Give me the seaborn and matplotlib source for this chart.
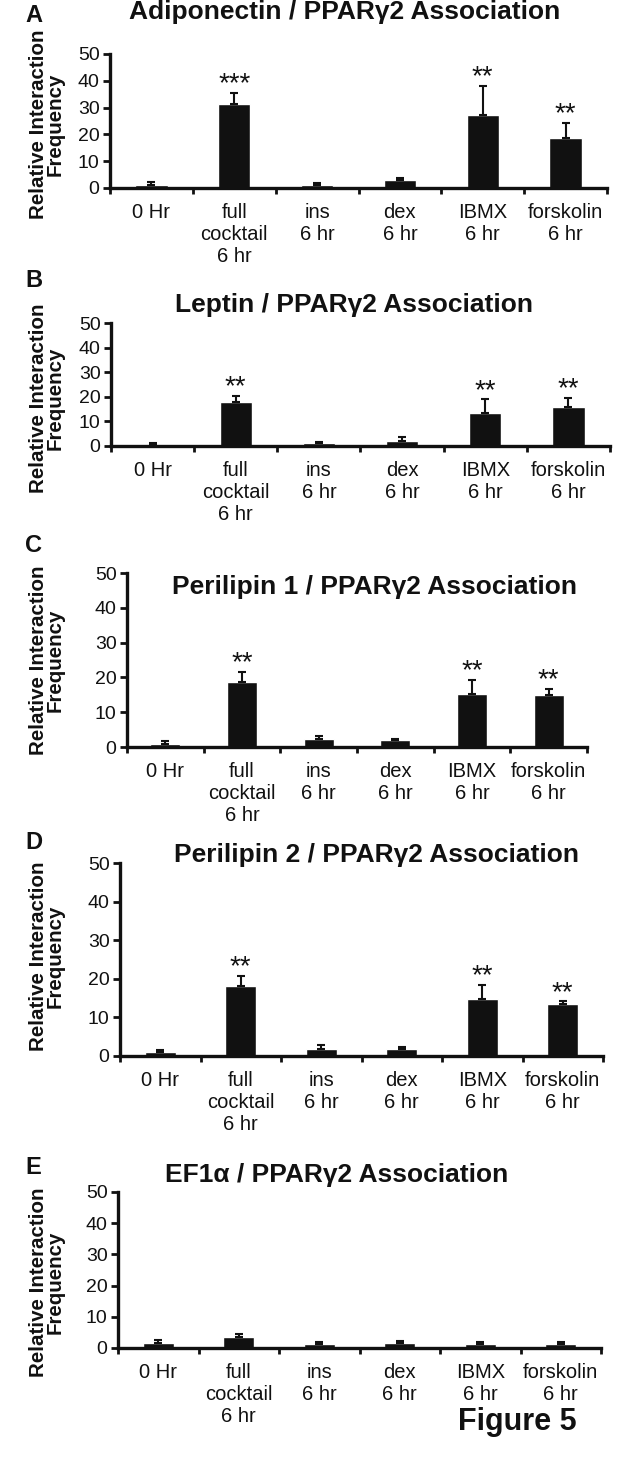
import matplotlib
matplotlib.use("Agg")
import matplotlib.pyplot as plt
import seaborn as sns
import pandas as pd
import numpy as np

sns.set_theme(style="ticks")
plt.rcParams['font.family'] = ['Liberation Sans', 'DejaVu Sans']

# categories shared by all five panels
conditions = ["0 Hr", "full\ncocktail\n6 hr", "ins\n6 hr", "dex\n6 hr", "IBMX\n6 hr", "forskolin\n6 hr"]
yticks = [0, 10, 20, 30, 40, 50]

# A - Adiponectin
adipo_mean = [1.1, 31.4, 1.0, 2.8, 27.4, 18.6]
adipo_err = [1.0, 4.2, 1.0, 0.8, 10.7, 5.8]
adipo_stars = ["", "***", "", "", "**", "**"]

# B - Leptin
leptin_mean = [0.5, 17.9, 1.1, 1.9, 13.6, 15.7]
leptin_err = [0.9, 2.6, 0.7, 1.9, 5.4, 3.9]
leptin_stars = ["", "**", "", "", "**", "**"]

# C - Perilipin 1
plin1_mean = [1.0, 18.7, 2.3, 1.9, 15.3, 15.0]
plin1_err = [0.6, 2.9, 0.8, 0.5, 4.0, 1.8]
plin1_stars = ["", "**", "", "", "**", "**"]

# D - Perilipin 2
plin2_mean = [0.95, 18.25, 1.8, 1.8, 14.8, 13.5]
plin2_err = [0.6, 2.55, 1.05, 0.45, 3.7, 0.7]
plin2_stars = ["", "**", "", "", "**", "**"]

# E - EF1a control
ef1a_mean = [1.7, 3.5, 1.4, 1.7, 1.4, 1.3]
ef1a_err = [0.8, 1.0, 0.6, 0.65, 0.6, 0.5]
ef1a_stars = ["", "", "", "", "", ""]

W, H = 628, 1462
fig = plt.figure(figsize=(W / 100, H / 100), dpi=100)
fig.patch.set_facecolor("white")
INK = "#111111"


def fx(x):
    return x / W


def fy(y):
    return 1 - y / H


def draw_panel(rect, means, errs, stars):
    left, top, right, bottom = rect
    ax = fig.add_axes([fx(left), fy(bottom), (right - left) / W, (bottom - top) / H])
    df = pd.DataFrame({"condition": conditions, "value": means})
    sns.barplot(data=df, x="condition", y="value", order=conditions, color=INK,
                saturation=1, width=0.39, errorbar=None, ax=ax)
    x = np.arange(len(conditions))
    # only upper error bars
    ax.errorbar(x, means, yerr=[np.zeros(len(means)), errs], fmt="none",
                ecolor=INK, elinewidth=1.5, capsize=3, capthick=1.5)
    for xi, m, e, s in zip(x, means, errs, stars):
        if s:
            ax.annotate(s, xy=(xi, m + e), xytext=(0, 1), textcoords="offset points",
                        ha="center", va="baseline", fontsize=20, color=INK)

    ax.set_ylim(0, 50)
    ax.set_xlim(-0.5, len(conditions) - 0.5)
    ax.set_yticks(yticks)
    ax.set_xticks(np.arange(-0.5, len(conditions)), labels=[""] * (len(conditions) + 1))
    ax.set_xticks(x, labels=conditions, minor=True)
    ax.tick_params(axis="x", which="major", length=4, width=2, color=INK)
    ax.tick_params(axis="x", which="minor", length=0, pad=11, labelsize=14.5, labelcolor=INK)
    ax.tick_params(axis="y", length=5, width=2, pad=2.5, labelsize=14, color=INK, labelcolor=INK)
    for sp in ["top", "right"]:
        ax.spines[sp].set_visible(False)
    for sp in ["left", "bottom"]:
        ax.spines[sp].set_linewidth(2.4)
        ax.spines[sp].set_color(INK)
    ax.set_xlabel("")
    ax.set_ylabel("")
    ax.set_facecolor("white")
    return ax


draw_panel((110, 54, 607, 188), adipo_mean, adipo_err, adipo_stars)
draw_panel((111, 323, 610, 446), leptin_mean, leptin_err, leptin_stars)
draw_panel((127, 573, 587, 747), plin1_mean, plin1_err, plin1_stars)
draw_panel((120, 863, 603, 1056), plin2_mean, plin2_err, plin2_stars)
draw_panel((118, 1192, 601, 1348), ef1a_mean, ef1a_err, ef1a_stars)

titles = ["Adiponectin / PPARγ2 Association", "Leptin / PPARγ2 Association",
          "Perilipin 1 / PPARγ2 Association", "Perilipin 2 / PPARγ2 Association",
          "EF1α / PPARγ2 Association"]
title_pos = [(345, 18.5), (354, 311.7), (375, 594), (377, 862), (337, 1181.7)]
for t, (cx, by) in zip(titles, title_pos):
    fig.text(fx(cx), fy(by), t, ha="center", va="baseline", fontsize=19,
             fontweight="bold", color=INK)

letters = ["A", "B", "C", "D", "E"]
letter_top = [4, 269, 534, 831, 1156]
for l, ty in zip(letters, letter_top):
    fig.text(fx(25), fy(ty), l, ha="left", va="top", fontsize=17,
             fontweight="bold", color=INK)

ylabel_y = [124, 398, 660, 956, 1282]
for yy in ylabel_y:
    fig.text(fx(47), fy(yy), "Relative Interaction\nFrequency", rotation=90,
             ha="center", va="center", multialignment="center", fontsize=14.8,
             fontweight="bold", linespacing=0.85, color=INK)

fig.text(fx(517), fy(1422), "Figure 5", ha="center", va="center", fontsize=22,
         fontweight="bold", color=INK)

fig.savefig("out.png", dpi=100, facecolor="white")
